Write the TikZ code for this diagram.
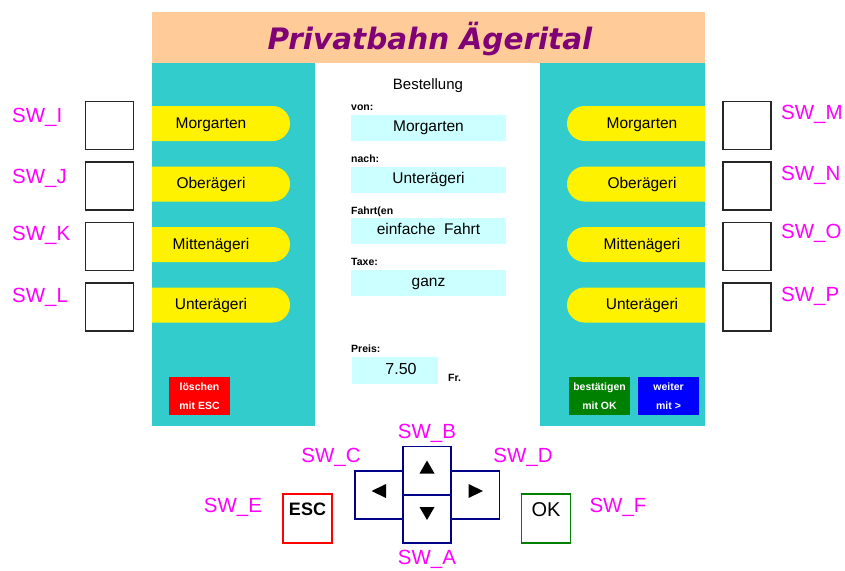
\documentclass[tikz,border=0pt]{standalone}
\usepackage{fontspec}
\setmainfont{Liberation Sans}
\newfontfamily\titlefont{DejaVu Sans}
\usetikzlibrary{positioning, shapes.misc}
\definecolor{panelcyan}{HTML}{33CCCC}
\definecolor{titlepeach}{HTML}{FFCC99}
\definecolor{titlepurple}{HTML}{800075}
\definecolor{fieldcyan}{HTML}{CCFFFF}
\definecolor{swmagenta}{HTML}{FF00FF}
\definecolor{padnavy}{HTML}{000088}
\definecolor{okgreen}{HTML}{008000}
\tikzset{
  capc/.style={text height=0.72em, text depth=0pt},
  swbox/.style={draw=black!85, line width=1.9pt, fill=white, minimum size=48, inner sep=0},
  swlabel/.style={text=swmagenta, font=\fontsize{20.5}{20.5}\selectfont, inner sep=0, capc},
  pilltext/.style={font=\fontsize{15.5}{15.5}\selectfont, inner sep=0, capc},
  lpill/.style={rounded rectangle, rounded rectangle west arc=none, fill=yellow,
    minimum width=138, minimum height=35, inner sep=0},
  rpill/.style={rounded rectangle, rounded rectangle east arc=none, fill=yellow,
    minimum width=138, minimum height=35, inner sep=0},
  field/.style={fill=fieldcyan, minimum width=155, minimum height=26, inner sep=0,
    font=\fontsize{15.5}{15.5}\selectfont, capc},
  smalllabel/.style={anchor=west, inner sep=0, font=\bfseries\fontsize{10.5}{10.5}\selectfont, capc},
  keybox/.style={fill=#1, minimum width=61, minimum height=38, inner sep=0, align=center,
    text=white, font=\bfseries\fontsize{10.5}{19}\selectfont},
  padbox/.style={draw=padnavy, line width=1.8pt, fill=white, minimum width=48, minimum height=48,
    inner sep=0},
  tri/.style={fill=black}
}
\begin{document}
\begin{tikzpicture}[x=1pt, y=-1pt]
  \useasboundingbox (0,0) rectangle (845,570);
  % Panels
  \fill[titlepeach] (152,12) rectangle (705,63);
  \fill[panelcyan] (152,63) rectangle (315,426);
  \fill[panelcyan] (540,63) rectangle (705,426);
  \node[text=titlepurple, font=\titlefont\bfseries\itshape\fontsize{29.5}{29.5}\selectfont,
    inner sep=0, capc] (title) at (430,46) {Privatbahn Ägerital};
  % Station keys, left and right
  \foreach \y/\st/\sl/\sr/\yl/\yr [count=\i] in {123.5/Morgarten/I/M/118.5/115.5,
      184/Oberägeri/J/N/180/176.5, 244.5/Mittenägeri/K/O/236.5/234.5,
      305/Unterägeri/L/P/299/297.5} {
    \node[lpill, label={[pilltext, xshift=-10pt, yshift=-1pt]center:\st}] (lp\i) at (221,\y) {};
    \node[rpill, label={[pilltext, xshift=6pt, yshift=-1pt]center:\st}] (rp\i) at (636,\y) {};
    \node[swbox] (lb\i) at (109.5,\y+2) {};
    \node[swbox] (rb\i) at (747,\y+2) {};
    \node[swlabel, anchor=west] (ll\i) at (12,\yl) {SW\_\sl};
    \node[swlabel, anchor=west] (rl\i) at (781,\yr) {SW\_\sr};
  }
  % Order form
  \node[font=\fontsize{15}{15}\selectfont, inner sep=0, capc] (head) at (428,86) {Bestellung};
  \node[smalllabel] (lvon) at (351,107) {von:};
  \node[field] (fvon) at (428.5,128) {Morgarten};
  \node[smalllabel] (lnach) at (351,159) {nach:};
  \node[field] (fnach) at (428.5,179.5) {Unterägeri};
  \node[smalllabel] (lfahrt) at (351,211) {Fahrt(en};
  \node[field] (ffahrt) at (428.5,231) {einfache~ Fahrt};
  \node[smalllabel] (ltaxe) at (351,262) {Taxe:};
  \node[field] (ftaxe) at (428.5,283) {ganz};
  \node[smalllabel] (lpreis) at (351,349) {Preis:};
  \node[field, minimum width=86, minimum height=27, font=\fontsize{16}{16}\selectfont]
    (fpreis) at (395,370.5) {\hspace{12pt}7.50};
  \node[smalllabel] (lfr) at (448,378) {Fr.};
  % Soft keys
  \node[keybox=red] (kesc) at (199.5,396) {löschen\\mit ESC};
  \node[keybox=okgreen] (kok) at (599.5,396) {bestätigen\\mit OK};
  \node[keybox=blue] (knext) at (668.5,396) {weiter\\mit >};
  % Direction pad
  \node[padbox] (pleft) at (379,495) {};
  \node[padbox] (pright) at (475.5,495) {};
  \node[padbox] (pup) at (427,470.5) {};
  \node[padbox] (pdown) at (427,519) {};
  \fill[tri, shift={(pup.center)}] (-7.5,3) -- (7.5,3) -- (0,-10) -- cycle;
  \fill[tri, shift={(pdown.center)}] (-7.5,-12) -- (7.5,-12) -- (0,1) -- cycle;
  \fill[tri, shift={(pleft.center)}] (7,-11) -- (7,3) -- (-7.5,-4) -- cycle;
  \fill[tri, shift={(pright.center)}] (-7,-11) -- (-7,3) -- (7.5,-4) -- cycle;
  \node[draw=red, line width=1.8pt, minimum size=49, inner sep=0] (besc) at (307.5,518.5) {};
  \node[font=\bfseries\fontsize{18}{18}\selectfont, inner sep=0, capc] (tesc) at (307.5,511.5) {ESC};
  \node[draw=okgreen, line width=1.8pt, minimum size=49, inner sep=0] (bok) at (546,518.5) {};
  \node[font=\fontsize{20}{20}\selectfont, inner sep=0, capc] (tok) at (546,512.5) {OK};
  \node[swlabel] (sa) at (427,560.5) {SW\_A};
  \node[swlabel] (sb) at (427,435) {SW\_B};
  \node[swlabel] (sc) at (331,459) {SW\_C};
  \node[swlabel] (sd) at (523,459) {SW\_D};
  \node[swlabel] (se) at (233,508.5) {SW\_E};
  \node[swlabel] (sf) at (618,508.5) {SW\_F};
\end{tikzpicture}
\end{document}
